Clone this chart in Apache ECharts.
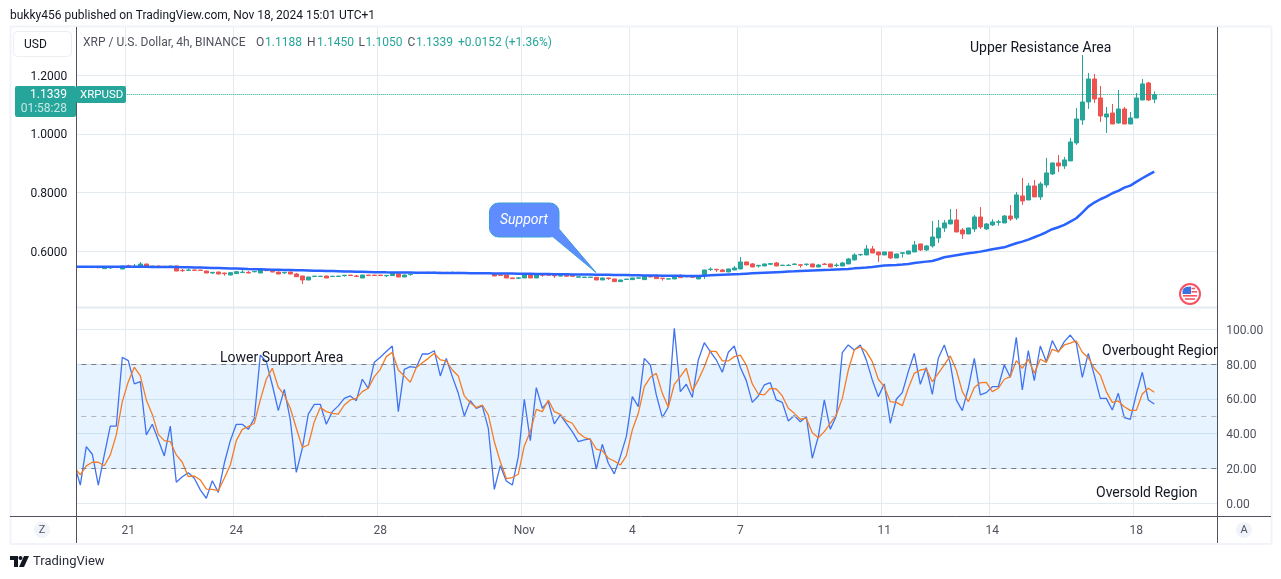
<!DOCTYPE html>
<html>
<head>
<meta charset="utf-8">
<title>XRP / U.S. Dollar</title>
<script src="https://cdn.jsdelivr.net/npm/echarts@6/dist/echarts.min.js"></script>
<style>
html,body{margin:0;padding:0;background:#fff;}
#chart{width:1281px;height:579px;}
</style>
</head>
<body>
<div id="chart"></div>
<script>
// 4h candles
var opens = [.5472,
.5470,.5460,.5455,.5450,.5408,.5435,.5455,.5397,.5510,.5480,
.5465,.5567,.5465,.5499,.5488,.5453,.5499,.5351,.5351,.5363,
.5360,.5328,.5260,.5294,.5260,.5192,.5238,.5275,.5283,.5300,
.5260,.5363,.5317,.5294,.5265,.5294,.5226,.5158,.5022,.5140,
.5140,.5158,.5140,.5142,.5170,.5188,.5158,.5090,.5188,.5188,
.5188,.5165,.5170,.5227,.5125,.5205,.5240,.5265,.5285,.5270,
.5285,.5280,.5268,.5282,.5278,.5270,.5258,.5270,.5268,.5227,
.5195,.5193,.5091,.5080,.5091,.5227,.5091,.5205,.5205,.5180,
.5155,.5170,.5168,.5118,.5108,.5108,.5114,.5023,.5090,.5057,
.4966,.5040,.5034,.5085,.5034,.5140,.5148,.5085,.5052,.5057,
.5159,.5130,.5130,.5057,.5159,.5380,.5387,.5364,.5296,.5364,
.5398,.5637,.5569,.5500,.5500,.5557,.5603,.5515,.5515,.5552,
.5540,.5552,.5569,.5466,.5565,.5569,.5515,.5500,.5569,.5705,
.5880,.5875,.6080,.5977,.5875,.5977,.5773,.5930,.5909,.5977,
.6250,.6046,.6182,.6455,.6795,.6932,.7068,.6727,.6591,.6761,
.7170,.6761,.6898,.6990,.6966,.7204,.7138,.7888,.7751,.8228,
.7854,.8263,.8637,.9012,.8910,.9081,.9694,1.0478,1.1091,1.1875,
1.1227,1.0580,1.0716,1.0376,1.0853,1.0341,1.0546,1.1159,1.1739,1.1188
];
var closes = [.5470,
.5455,.5450,.5445,.5440,.5453,.5445,.5445,.5499,.5488,.5490,
.5567,.5465,.5499,.5465,.5465,.5499,.5328,.5340,.5363,.5351,
.5345,.5260,.5283,.5226,.5238,.5272,.5306,.5290,.5260,.5312,
.5363,.5340,.5294,.5226,.5283,.5226,.5135,.5022,.5124,.5155,
.5152,.5090,.5150,.5155,.5185,.5175,.5140,.5192,.5172,.5175,
.5172,.5180,.5239,.5125,.5193,.5220,.5258,.5280,.5270,.5285,
.5270,.5268,.5282,.5268,.5265,.5258,.5270,.5258,.5255,.5159,
.5180,.5091,.5068,.5095,.5216,.5091,.5205,.5185,.5185,.5165,
.5170,.5150,.5150,.5130,.5120,.5120,.5023,.5091,.5070,.4966,
.5023,.5052,.5091,.5095,.5136,.5125,.5068,.5070,.5065,.5170,
.5102,.5145,.5115,.5159,.5364,.5392,.5370,.5307,.5398,.5432,
.5637,.5534,.5466,.5523,.5569,.5580,.5500,.5528,.5528,.5565,
.5525,.5565,.5466,.5534,.5550,.5466,.5530,.5603,.5739,.5875,
.5895,.6080,.5943,.5875,.5977,.5773,.5909,.5950,.6012,.6216,
.6046,.6182,.6489,.6795,.6966,.7068,.6659,.6591,.6795,.7170,
.6829,.6932,.7000,.7005,.7204,.7102,.7922,.7717,.8228,.7854,
.8297,.8672,.9012,.8910,.9115,.9728,1.0512,1.1091,1.1875,1.1193,
1.0614,1.0682,1.0341,1.0853,1.0341,1.0546,1.1227,1.1705,1.1159,1.1339
];
var lows = [.5462,
.5445,.5440,.5438,.5432,.5400,.5397,.5440,.5392,.5480,.5470,
.5460,.5455,.5460,.5460,.5458,.5450,.5322,.5294,.5345,.5345,
.5340,.5255,.5226,.5220,.5169,.5185,.5230,.5265,.5250,.5295,
.5255,.5335,.5288,.5220,.5226,.5220,.5130,.4885,.5015,.5130,
.5135,.5085,.5135,.5135,.5135,.5170,.5125,.5085,.5168,.5168,
.5165,.5125,.5165,.5120,.5118,.5170,.5235,.5260,.5262,.5265,
.5262,.5262,.5260,.5260,.5258,.5250,.5250,.5250,.5245,.5150,
.5170,.5085,.5062,.5075,.5085,.5085,.5085,.5136,.5170,.5091,
.5145,.5145,.5145,.5112,.5102,.5102,.5015,.5018,.5023,.4960,
.4960,.5035,.5028,.5080,.5030,.5118,.5062,.5000,.5045,.5052,
.5095,.5125,.5108,.5052,.5057,.5330,.5296,.5300,.5290,.5358,
.5392,.5528,.5460,.5443,.5495,.5534,.5495,.5510,.5505,.5534,
.5443,.5500,.5460,.5460,.5540,.5460,.5466,.5495,.5565,.5700,
.5841,.5870,.5935,.5637,.5870,.5739,.5768,.5784,.5905,.5972,
.6012,.6012,.6125,.6284,.6659,.6925,.6655,.6420,.6585,.6659,
.6761,.6727,.6863,.6875,.6960,.7034,.7070,.7581,.7745,.7848,
.7751,.8172,.8603,.8706,.8808,.9075,.9626,1.0307,1.0853,1.1057,
1.0410,1.0035,1.0335,1.0341,1.0335,1.0335,1.0540,1.1150,1.1125,1.1050
];
var highs = [.5480,
.5480,.5470,.5465,.5460,.5460,.5455,.5462,.5505,.5544,.5567,
.5635,.5572,.5505,.5505,.5500,.5505,.5505,.5397,.5408,.5372,
.5368,.5335,.5290,.5300,.5268,.5285,.5330,.5385,.5328,.5318,
.5368,.5372,.5325,.5300,.5290,.5300,.5260,.5165,.5130,.5160,
.5160,.5165,.5156,.5160,.5190,.5195,.5195,.5200,.5195,.5192,
.5192,.5185,.5245,.5235,.5200,.5228,.5265,.5285,.5290,.5290,
.5292,.5300,.5310,.5295,.5290,.5280,.5278,.5278,.5275,.5240,
.5205,.5200,.5098,.5100,.5222,.5240,.5240,.5250,.5228,.5190,
.5176,.5200,.5175,.5135,.5125,.5125,.5120,.5098,.5098,.5062,
.5028,.5058,.5096,.5100,.5140,.5148,.5205,.5092,.5070,.5175,
.5216,.5150,.5180,.5165,.5370,.5455,.5392,.5398,.5405,.5500,
.5807,.5645,.5603,.5530,.5575,.5587,.5637,.5535,.5557,.5591,
.5569,.5570,.5575,.5569,.5603,.5575,.5591,.5637,.5773,.5932,
.5909,.6216,.6182,.5985,.5985,.5985,.5915,.5977,.6018,.6352,
.6255,.6216,.7034,.7068,.7068,.7443,.7443,.6795,.6805,.7238,
.7511,.6966,.7091,.7068,.7238,.7579,.8024,.8501,.8331,.8433,
.8365,.9183,.9020,.9285,.9217,.9864,1.0887,1.2693,1.2080,1.2045,
1.1637,1.0921,1.1023,1.1500,1.0921,1.0750,1.1398,1.1875,1.1773,1.1450
];
var maLine = [.5476,
.5476,.5476,.5475,.5475,.5474,.5474,.5473,.5473,.5472,.5472,
.5471,.5470,.5469,.5468,.5467,.5466,.5464,.5460,.5456,.5451,
.5446,.5440,.5434,.5428,.5422,.5416,.5410,.5403,.5396,.5390,
.5385,.5380,.5375,.5370,.5365,.5360,.5355,.5350,.5345,.5340,
.5335,.5330,.5325,.5320,.5315,.5310,.5305,.5300,.5295,.5290,
.5285,.5282,.5280,.5278,.5276,.5274,.5272,.5270,.5268,.5266,
.5264,.5262,.5260,.5258,.5256,.5254,.5252,.5250,.5248,.5246,
.5244,.5242,.5240,.5238,.5235,.5233,.5230,.5227,.5224,.5221,
.5218,.5215,.5212,.5209,.5207,.5205,.5203,.5200,.5197,.5194,
.5191,.5188,.5185,.5182,.5179,.5176,.5173,.5170,.5167,.5165,
.5163,.5161,.5160,.5160,.5170,.5180,.5190,.5200,.5210,.5220,
.5228,.5238,.5248,.5258,.5268,.5278,.5288,.5298,.5308,.5318,
.5330,.5338,.5346,.5354,.5362,.5370,.5380,.5390,.5400,.5418,
.5432,.5444,.5466,.5489,.5512,.5523,.5534,.5546,.5569,.5603,
.5625,.5648,.5670,.5727,.5796,.5830,.5864,.5898,.5932,.5960,
.5989,.6028,.6068,.6102,.6136,.6205,.6273,.6330,.6400,.6480,
.6560,.6650,.6752,.6820,.6899,.7013,.7127,.7320,.7524,.7661,
.7774,.7865,.7979,.8058,.8172,.8240,.8365,.8490,.8603,.8717
];
var rsiValues = [22.6,
10.5,32.6,28.2,10.5,27.8,44.4,44.4,83.9,82.0,68.6,
69.9,39.3,45.4,36.4,27.2,44.4,12.1,15.3,17.6,14.4,
7.7,2.9,13.0,6.3,23.0,36.0,45.4,45.4,42.5,48.9,
85.2,81.4,68.0,53.3,65.5,47.9,17.8,31.6,51.3,56.9,
56.9,45.4,52.7,56.0,60.3,61.7,59.0,71.3,66.1,81.0,
83.9,87.2,90.4,52.7,77.0,78.5,78.0,85.8,85.8,87.7,
73.2,83.3,72.8,63.2,50.2,59.0,54.6,56.0,43.1,8.0,
21.6,12.8,10.5,26.8,59.8,36.0,66.5,54.6,58.4,45.6,
50.8,46.0,41.2,35.4,36.4,37.0,19.7,33.9,23.0,16.9,
26.8,38.3,61.3,55.6,83.3,79.5,62.3,49.4,55.2,100.6,
64.2,68.4,60.9,82.4,92.3,87.2,82.4,75.3,86.8,90.4,
78.2,70.5,58.0,61.7,68.0,69.3,59.4,58.0,47.3,50.4,
46.9,49.8,25.9,38.3,59.4,42.5,50.2,86.6,91.0,88.1,
91.0,82.4,70.9,61.3,68.6,46.0,59.8,63.6,75.7,86.2,
68.4,78.0,62.6,83.3,91.0,80.4,59.4,53.3,66.1,83.3,
62.3,63.6,67.0,67.0,79.5,72.4,95.4,65.1,87.7,70.5,
90.4,81.4,93.5,86.8,92.9,96.7,92.0,72.4,86.2,73.7,
60.3,60.3,53.6,63.2,49.2,48.3,62.8,75.3,59.4,57.1
];
var rsiAverage = [20.9,
16.3,21.5,23.6,23.6,21.6,27.8,39.3,58.4,69.9,78.2,
73.2,59.4,51.1,39.6,36.0,35.4,27.8,23.6,15.3,15.7,
13.4,8.2,8.0,7.3,14.4,22.0,36.0,42.5,44.1,46.0,
59.4,71.3,77.6,66.7,62.3,54.6,43.1,32.2,33.5,46.9,
55.0,52.7,51.7,51.3,56.5,59.4,60.3,64.2,66.1,72.8,
77.0,84.3,86.8,76.6,73.2,69.5,78.0,80.8,83.3,86.2,
82.4,81.8,76.6,73.2,61.7,57.8,55.0,56.5,50.8,35.4,
23.9,14.2,14.8,16.7,33.0,41.2,54.0,52.7,59.4,52.7,
51.1,47.5,46.0,40.6,37.9,36.8,31.2,30.3,25.9,24.3,
22.0,27.2,42.1,51.7,67.0,72.4,74.7,63.2,55.2,68.4,
72.8,77.6,64.5,70.9,78.5,87.5,87.2,81.8,81.8,84.3,
85.2,79.5,68.6,62.8,62.3,66.1,65.7,61.7,54.6,51.7,
48.3,48.9,40.6,37.7,41.2,46.0,50.8,60.3,76.6,88.1,
90.0,87.2,81.4,71.3,67.0,58.4,58.0,56.1,66.1,74.7,
76.6,77.2,69.9,74.7,79.5,84.7,76.6,64.2,58.4,66.5,
69.3,69.5,64.2,66.1,71.3,72.8,82.0,77.6,82.8,74.7,
82.8,81.0,88.5,87.2,91.0,92.0,93.3,86.8,83.7,77.6,
73.7,64.2,58.0,58.8,55.5,53.4,53.4,62.8,66.1,63.8
];
var slotCount = 191;
var tickBars = [9,27,51,75,93,111,135,153,177];
var tickLabels = ['21','24','28','Nov','4','7','11','14','18'];
var priceTicks = [0.6,0.8,1.0,1.2];
var rsiTicks = [0,20,40,60,80,100];
var lastPrice = 1.1339;

var categories = [];
for(var n=0;n<slotCount;n++){
    categories.push('bar'+n);
}
var candles = opens.map(function(o,i){
    return [o,closes[i],lows[i],highs[i]];
});

var green='#26a69a', red='#ef5350', ink='#131722', gray='#50535e', grid='#e3ebf1', axisDark='#50535e', frame='#f0f3fa';
var font='Roboto';

function txt(x,y,s,color,extra){
    var st={x:x,y:y,text:s,fill:color||ink,font:'12px '+font,textVerticalAlign:'middle'};
    for(var k in extra){st[k]=extra[k];}
    return {type:'text',z:20,style:st,silent:true};
}
function box(x,y,w,h,fill,r,stroke){
    return {type:'rect',z:15,shape:{x:x,y:y,width:w,height:h,r:r||0},style:{fill:fill,stroke:stroke||null,lineWidth:stroke?1:0},silent:true};
}
function line(x1,y1,x2,y2,color,w,z){
    return {type:'line',z:z||14,shape:{x1:x1,y1:y1,x2:x2,y2:y2},style:{stroke:color,lineWidth:w||1},silent:true};
}
function isTick(i){return tickBars.indexOf(i)>=0;}

var coverOverbought=box(1218,342,8,18,'#fff');
coverOverbought.z=21;

var graphics=[
    // the plot starts one bar early, this strip hides that bar left of the axis rule
    box(71,27,5,489,'#fff'),
    // frame and the axis rules
    line(10.5,26.5,1271.5,26.5,frame,2),
    line(10.5,26.5,10.5,544,frame,2),
    line(1271.5,26.5,1271.5,544,frame,2),
    line(10.5,544,1271.5,544,frame,2),
    line(76.5,27,76.5,543,axisDark,1),
    line(1217.5,27,1217.5,543,axisDark,1),
    line(10,516.5,1271,516.5,axisDark,1),
    line(77,307.5,1217,307.5,grid,2),
    txt(10,15.5,'bukky456 published on TradingView.com, Nov 18, 2024 15:01 UTC+1',ink),
    // USD button
    box(13.5,31.5,58,25,'#fff',4,'#eceef2'),
    txt(24,44.5,'USD',ink),
    // legend line
    txt(83,42.5,'XRP / U.S. Dollar, 4h, BINANCE',gray),
    txt(256,42.5,'O',gray), txt(265,42.5,'1.1188',green),
    txt(307,42.5,'H',gray), txt(317,42.5,'1.1450',green),
    txt(358.5,42.5,'L',gray), txt(365.5,42.5,'1.1050',green),
    txt(407.5,42.5,'C',gray), txt(416,42.5,'1.1339',green),
    txt(458,42.5,'+0.0152 (+1.36%)',green),
    // last price tags
    box(15,86,61,31,green,2),
    box(76,86,50,17,green,2),
    txt(67,95,'1.1339','#fff',{textAlign:'right'}),
    txt(67,108.5,'01:58:28','#c4e8e4',{textAlign:'right'}),
    txt(80,95,'XRPUSD','#fff',{font:'11.5px '+font}),
    // notes
    txt(970,48,'Upper Resistance Area',ink,{font:'14px '+font}),
    txt(220,358.5,'Lower Support Area',ink,{font:'14px '+font}),
    txt(1102,351.5,'Overbought Region',ink,{font:'14px '+font}),
    coverOverbought,
    txt(1096,493,'Oversold Region',ink,{font:'14px '+font}),
    // Support balloon
    {type:'polygon',z:16,shape:{points:[[552,236],[596,272.5],[559,229]]},style:{fill:'#5f8dff',stroke:'#3a9fd6',lineWidth:1},silent:true},
    {type:'rect',z:16,shape:{x:489.5,y:203,width:69.5,height:34,r:9},style:{fill:'#5f8dff',stroke:'#3a9fd6',lineWidth:1},silent:true},
    {type:'polygon',z:17,shape:{points:[[546,236.5],[553,236.5],[590,266],[559,231],[558.5,224]]},style:{fill:'#5f8dff'},silent:true},
    txt(524,220,'Support','#fff',{font:'italic 14px '+font,textAlign:'center'}),
    // events flag
    {type:'circle',z:16,shape:{cx:1190,cy:294,r:10},style:{fill:'#fff',stroke:'#f7525f',lineWidth:2},silent:true},
    {type:'polygon',z:17,shape:{points:[[1183.5,288.5],[1186,287],[1191,286.5],[1191,294],[1182.5,294],[1182.5,291]]},style:{fill:'#3a72e0'},silent:true},
    line(1191.5,288.5,1195,288.5,'#f7525f',1.6,17),
    line(1191.5,291.8,1197,291.8,'#f7525f',1.6,17),
    line(1183,295.8,1197,295.8,'#f7525f',1.6,17),
    line(1185,299,1195,299,'#f7525f',1.6,17),
    // scale buttons
    {type:'circle',z:16,shape:{cx:42,cy:530,r:8},style:{fill:frame},silent:true},
    txt(42,530,'Z',gray,{textAlign:'center',font:'11px '+font}),
    {type:'circle',z:16,shape:{cx:1244,cy:530,r:8},style:{fill:frame},silent:true},
    txt(1244,530,'A',gray,{textAlign:'center',font:'11px '+font}),
    // footer logo
    {type:'polygon',z:16,shape:{points:[[10,556],[18,556],[18,567],[14,567],[14,560],[10,560]]},style:{fill:ink},silent:true},
    {type:'circle',z:16,shape:{cx:20.5,cy:558,r:2},style:{fill:ink},silent:true},
    {type:'polygon',z:16,shape:{points:[[24,556],[29,556],[24,567],[19,567]]},style:{fill:ink},silent:true},
    txt(33,561.5,'TradingView','#2a2e39',{font:'13px '+font})
];

var chart = echarts.init(document.getElementById('chart'),null,{renderer:'canvas'});
var option = {
    animation:false,
    backgroundColor:'#fff',
    graphic:graphics,
    grid:[
        {left:71.3,top:27,width:1146,height:280.5},
        {left:71.3,top:308,width:1146,height:208}
    ],
    xAxis:[
        {type:'category',gridIndex:0,data:categories,boundaryGap:true,
            axisLine:{show:false},axisTick:{show:false},axisLabel:{show:false},
            splitLine:{show:true,interval:function(i){return isTick(i);},lineStyle:{color:grid,width:1}}},
        {type:'category',gridIndex:1,data:categories,boundaryGap:true,
            axisLine:{show:false},axisTick:{show:false},
            axisLabel:{show:true,interval:function(i){return isTick(i);},margin:9,fontFamily:font,fontSize:12,color:gray,
                formatter:function(v,i){return tickLabels[tickBars.indexOf(i)];}},
            splitLine:{show:true,interval:function(i){return isTick(i);},lineStyle:{color:grid,width:1}}}
    ],
    yAxis:[
        {type:'value',gridIndex:0,position:'left',min:0.4084,max:1.3647,
            axisLine:{show:false},
            axisTick:{show:false,customValues:priceTicks},
            axisLabel:{margin:4,lineHeight:15,verticalAlign:'top',padding:[-6,0,0,0],fontFamily:font,fontSize:12,color:ink,customValues:priceTicks,
                formatter:function(v){return v.toFixed(4);}},
            splitLine:{show:true,lineStyle:{color:grid,width:1}}},
        {type:'value',gridIndex:1,position:'right',min:-7.3,max:112.24,
            axisLine:{show:false},
            axisTick:{show:false,customValues:rsiTicks},
            axisLabel:{margin:9,lineHeight:15,verticalAlign:'top',padding:[-6,0,0,0],fontFamily:font,fontSize:12,color:gray,customValues:rsiTicks,
                formatter:function(v){return v.toFixed(2);}},
            splitLine:{show:true,lineStyle:{color:grid,width:1}}}
    ],
    series:[
        {type:'candlestick',name:'XRPUSD',xAxisIndex:0,yAxisIndex:0,data:candles,barWidth:5,
            itemStyle:{color:green,color0:red,borderColor:green,borderColor0:red,borderWidth:1}},
        {type:'line',name:'MA',xAxisIndex:0,yAxisIndex:0,data:maLine,showSymbol:false,z:3,
            lineStyle:{color:'#2962ff',width:2.5},
            markLine:{silent:true,symbol:'none',precision:4,label:{show:false},
                lineStyle:{color:green,type:'dotted',width:1},
                data:[{yAxis:lastPrice}]}},
        {type:'line',name:'RSI',xAxisIndex:1,yAxisIndex:1,data:rsiValues,showSymbol:false,z:3,
            lineStyle:{color:'#3f73f2',width:1.3},
            markArea:{silent:true,itemStyle:{color:'rgba(33,150,243,0.11)'},data:[[{yAxis:20},{yAxis:80}]]},
            markLine:{silent:true,symbol:'none',label:{show:false},
                data:[
                    {yAxis:80,lineStyle:{color:'#787b86',type:[5,5],width:1}},
                    {yAxis:50,lineStyle:{color:'#b2b5be',type:[5,5],width:1}},
                    {yAxis:20,lineStyle:{color:'#787b86',type:[5,5],width:1}}
                ]}},
        {type:'line',name:'RSI MA',xAxisIndex:1,yAxisIndex:1,data:rsiAverage,showSymbol:false,z:4,
            lineStyle:{color:'#f57c26',width:1.3}}
    ]
};
chart.setOption(option);
</script>
</body>
</html>
